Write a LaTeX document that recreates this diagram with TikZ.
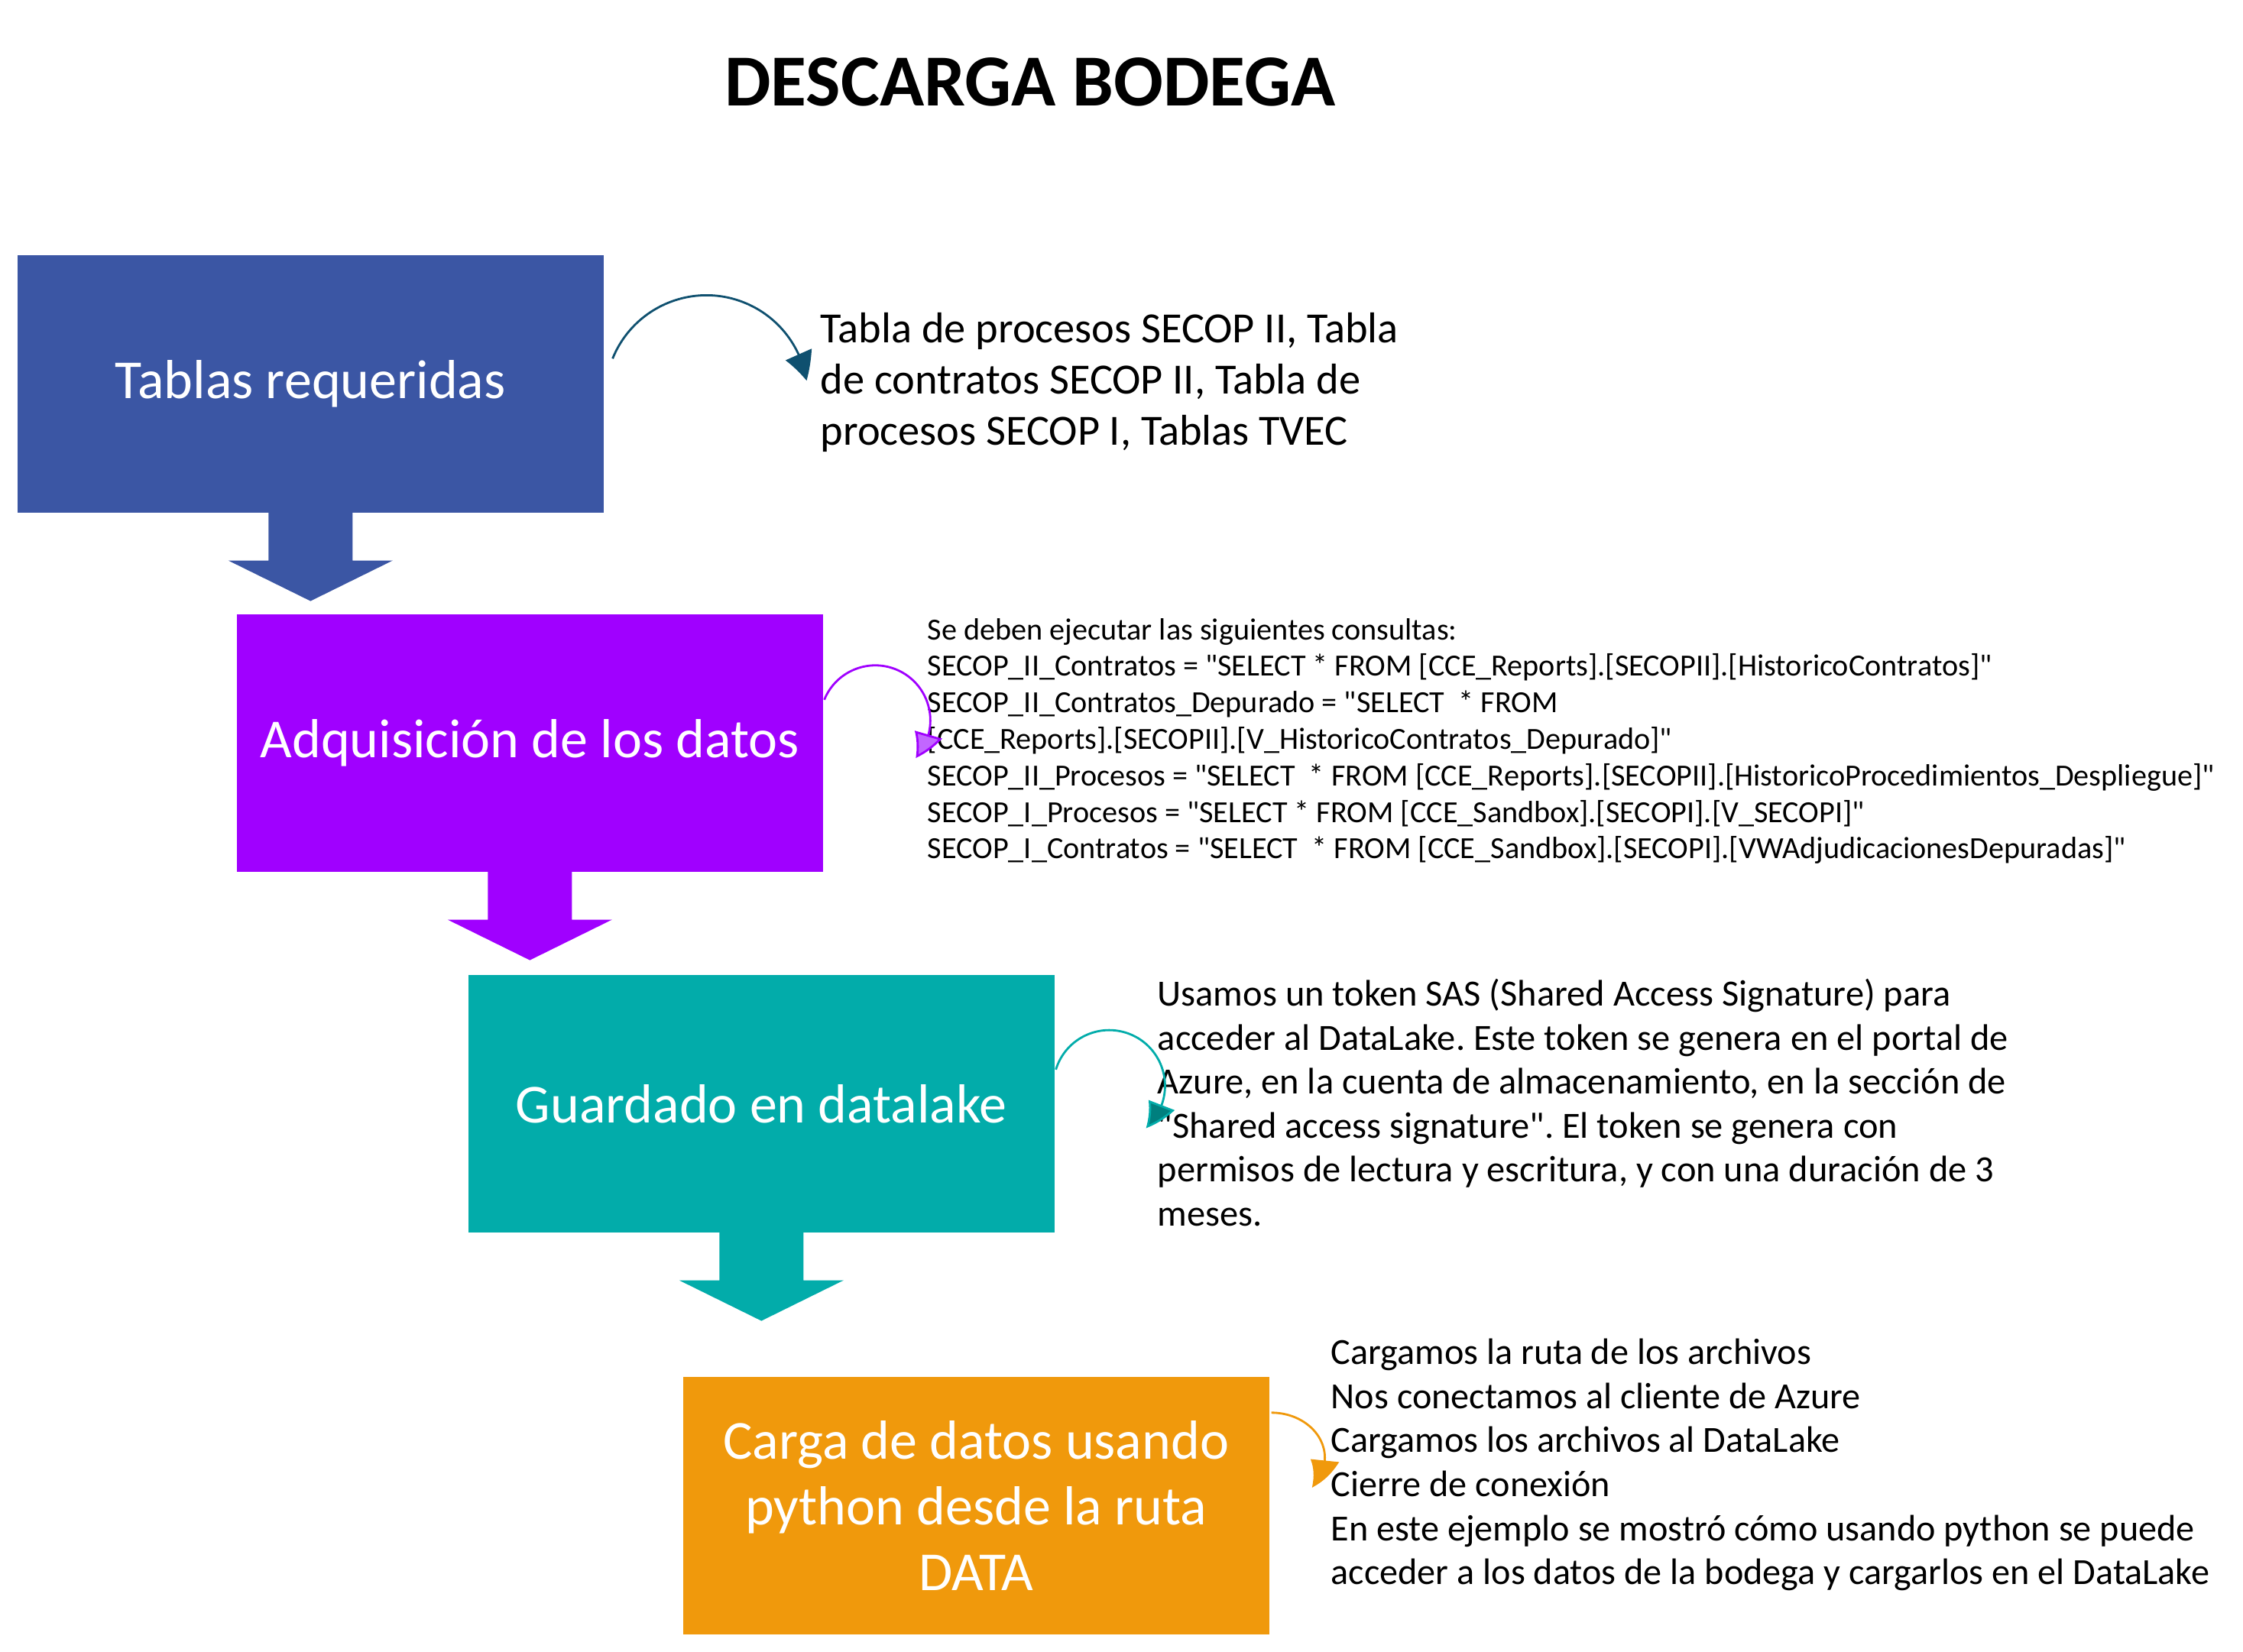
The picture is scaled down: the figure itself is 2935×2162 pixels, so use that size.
\documentclass[tikz,border=0pt]{standalone}
\usepackage{fontspec}
\setmainfont{Carlito}[Ligatures=TeXOff]
\frenchspacing
\usetikzlibrary{arrows.meta,bending}
\definecolor{cA}{HTML}{3B56A4}
\definecolor{cB}{HTML}{A000FF}
\definecolor{cBh}{HTML}{C266FF}
\definecolor{cC}{HTML}{02ACAA}
\definecolor{cCh}{HTML}{007F7E}
\definecolor{cD}{HTML}{F0990C}
\definecolor{cAr}{HTML}{0F506F}
\begin{document}
\begin{tikzpicture}[x=0.25pt,y=-0.25pt,
  stepbox/.style={rectangle, inner sep=0pt, minimum width=191.75pt, minimum height=84.25pt,
    anchor=north west, text=white, align=center, font=\fontsize{18}{21.5}\selectfont},
  note/.style={anchor=west, inner sep=0pt, align=left, text=black},
  curv/.style={line width=0.7pt},
  downarr/.pic={\fill[#1] (-55,-2) -- (-55,62) -- (-107.5,62) -- (0,115) -- (107.5,62) -- (55,62) -- (55,-2) -- cycle;}
]
\useasboundingbox (0,0) rectangle (2935,2162);

\node[font=\bfseries\fontsize{24}{29}\selectfont] (title) at (1348,107) {DESCARGA BODEGA};

\node[stepbox, fill=cA] (b1) at (22,333) {Tablas requeridas};
\node[stepbox, fill=cB] (b2) at (309,803) {Adquisición de los datos};
\node[stepbox, fill=cC] (b3) at (612,1275) {Guardado en datalake};
\node[stepbox, fill=cD] (b4) at (893,1801) {Carga de datos usando\\python desde la ruta\\DATA};

\pic at (b1.south) {downarr=cA};
\pic at (b2.south) {downarr=cB};
\pic at (b3.south) {downarr=cC};

\node[note, font=\fontsize{14.1}{16.75}\selectfont] (t1) at (1073,500)
  {Tabla de procesos SECOP II, Tabla\\de contratos SECOP II, Tabla de\\procesos SECOP I, Tablas TVEC};

\node[note, font=\fontsize{10.05}{11.95}\selectfont] (t2) at (1213,970)
  {Se deben ejecutar las siguientes consultas:\\
   SECOP\_II\_Contratos = "SELECT * FROM [CCE\_Reports].[SECOPII].[HistoricoContratos]"\\
   SECOP\_II\_Contratos\_Depurado = "SELECT\ \ * FROM\\
   {[}CCE\_Reports].[SECOPII].[V\_HistoricoContratos\_Depurado]"\\
   SECOP\_II\_Procesos = "SELECT\ \ * FROM [CCE\_Reports].[SECOPII].[HistoricoProcedimientos\_Despliegue]"\\
   SECOP\_I\_Procesos = "SELECT * FROM [CCE\_Sandbox].[SECOPI].[V\_SECOPI]"\\
   SECOP\_I\_Contratos = "SELECT\ \ * FROM [CCE\_Sandbox].[SECOPI].[VWAdjudicacionesDepuradas]"};

\node[note, font=\fontsize{12.1}{14.4}\selectfont] (t3) at (1514,1443)
  {Usamos un token SAS (Shared Access Signature) para\\
   acceder al DataLake. Este token se genera en el portal de\\
   Azure, en la cuenta de almacenamiento, en la sección de\\
   "Shared access signature". El token se genera con\\
   permisos de lectura y escritura, y con una duración de 3\\
   meses.};

\node[note, font=\fontsize{12.05}{14.4}\selectfont] (t4) at (1741,1917)
  {Cargamos la ruta de los archivos\\
   Nos conectamos al cliente de Azure\\
   Cargamos los archivos al DataLake\\
   Cierre de conexión\\
   En este ejemplo se mostró cómo usando python se puede\\
   acceder a los datos de la bodega y cargarlos en el DataLake};

\draw[curv, cAr, -{Triangle[length=9pt,width=9.2pt,bend]}]
  ([shift={(11,-33)}]b1.east) arc[start angle=-158, end angle=-9, radius=132.5];
\draw[curv, cB, -{Triangle[length=8.8pt,width=9.2pt,fill=cBh,bend]}]
  ([shift={(1,-56.5)}]b2.east) arc[start angle=-158, end angle=43, radius=72];
\draw[curv, cC, -{Triangle[length=9.2pt,width=9pt,fill=cCh,bend]}]
  ([shift={(1,-44.5)}]b3.east) arc[start angle=-163, end angle=49, radius=73];
\draw[curv, cD, -{Triangle[length=10pt,width=9.2pt,bend]}]
  ([shift={(2,-121.5)}]b4.east) arc[start angle=-90, end angle=41, x radius=70, y radius=59];
\end{tikzpicture}
\end{document}
